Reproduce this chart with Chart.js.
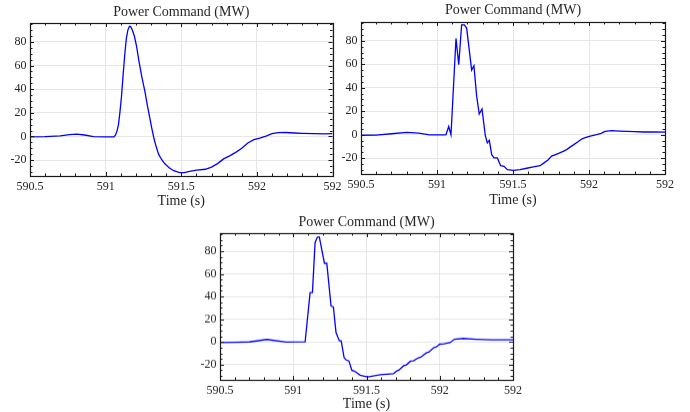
<!DOCTYPE html>
<html>
<head>
<meta charset="utf-8">
<script src="https://cdn.jsdelivr.net/npm/chart.js@4.4.1/dist/chart.umd.min.js"></script>
<style>
  body { margin: 0; background: #fff; }
  #fig { position: relative; width: 690px; height: 412px; }
  .panel { position: absolute; }
</style>
</head>
<body>
<div id="fig">
  <div class="panel" id="p1"><canvas id="c1"></canvas></div>
  <div class="panel" id="p2"><canvas id="c2"></canvas></div>
  <div class="panel" id="p3"><canvas id="c3"></canvas></div>
</div>
<script>
// axis ticks shared by all three panels
const xTickValues = [590.5, 591, 591.5, 592, 592.5];
const xTickLabels = ["590.5", "591", "591.5", "592", "592"];
const yTickValues = [-20, 0, 20, 40, 60, 80];
const panelTitle = "Power Command (MW)";

// panel 1 - smooth command
const time1 = [590.5, 590.6, 590.7, 590.76, 590.81, 590.86, 590.92, 591.0, 591.055, 591.065,
  591.075, 591.085, 591.095, 591.105, 591.115, 591.127, 591.137, 591.147, 591.158, 591.165,
  591.175, 591.19, 591.205, 591.22, 591.24, 591.26, 591.275, 591.29, 591.305, 591.32,
  591.335, 591.35, 591.37, 591.39, 591.42, 591.45, 591.49, 591.52, 591.555, 591.6,
  591.66, 591.7, 591.74, 591.78, 591.82, 591.86, 591.9, 591.94, 591.98, 592.02,
  592.06, 592.1, 592.14, 592.19, 592.25, 592.3, 592.38, 592.45, 592.5];
const power1 = [-0.3, -0.2, 0.4, 1.5, 2.0, 1.2, -0.1, -0.3, -0.3, 1.0,
  4.5, 10, 21, 34, 51, 70, 83, 90, 93.2, 93,
  90.5, 85, 76, 64, 50, 38, 27, 17, 7, -2,
  -9, -15, -19.5, -23, -26.5, -29, -30.7, -30.6, -29.6, -28.6,
  -27.8, -26, -23, -19, -16.5, -13.5, -10, -5.5, -2.8, -1.5,
  0.3, 2.3, 3.2, 3.3, 2.9, 2.6, 2.3, 2.1, 2.3];

// panel 2 - noisy command
const time2 = [590.5, 590.6, 590.7, 590.8, 590.88, 590.95, 591.05, 591.059, 591.077, 591.092,
  591.125, 591.143, 591.162, 591.18, 591.195, 591.228, 591.243, 591.261, 591.278, 591.296,
  591.318, 591.331, 591.344, 591.36, 591.375, 591.397, 591.419, 591.441, 591.463, 591.502,
  591.546, 591.59, 591.634, 591.678, 591.704, 591.73, 591.754, 591.78, 591.8, 591.83,
  591.853, 591.88, 591.9, 591.93, 591.952, 591.975, 592.002, 592.05, 592.08, 592.105,
  592.15, 592.2, 592.25, 592.3, 592.357, 592.42, 592.5];
const power2 = [-0.5, -0.3, 0.8, 2.0, 1.4, -0.2, -0.2, 0, 7, 0,
  82, 59.6, 93.6, 93.6, 90.8, 55, 58.7, 32.6, 17.6, 21.9,
  -0.9, -7, -4.8, -17, -19.8, -19.8, -26.4, -27, -29.8, -30.4,
  -29.8, -28.6, -27.5, -26.4, -24, -21.5, -18.3, -17, -16, -14.2,
  -12.7, -10.2, -8.5, -5.8, -3.7, -2.6, -1.4, 0, 1.2, 2.8,
  3.4, 3.1, 2.8, 2.6, 2.3, 2.4, 2.2];

// panel 3 - stepped command
const time3 = [590.5, 590.6, 590.7, 590.82, 590.95, 591.081, 591.115, 591.131, 591.149, 591.165,
  591.178, 591.213, 591.229, 591.258, 591.274, 591.292, 591.315, 591.327, 591.347, 591.361,
  591.38, 591.4, 591.42, 591.457, 591.507, 591.594, 591.685, 591.707, 591.72, 591.753,
  591.77, 591.8, 591.82, 591.855, 591.87, 591.91, 591.925, 591.96, 591.975, 592.0,
  592.03, 592.07, 592.1, 592.16, 592.25, 592.35, 592.5];
const power3 = [-0.5, -0.3, 0, 2.2, -0.2, 0, 43.5, 43.5, 87.6, 92.6,
  92.6, 69.4, 69.4, 31.7, 30.9, 8.2, 0.9, 0.9, -13.8, -16,
  -16.8, -25, -26, -29.4, -30.9, -29, -28, -25.6, -25, -21,
  -20.5, -17, -16.8, -14, -13.5, -9.5, -9, -5, -4.6, -2,
  -1.6, -0.6, 2.4, 3.1, 2.4, 1.8, 1.8];

const serif = "'Liberation Serif', 'DejaVu Serif', serif";
const textColor = "#262626";

// closed box with inward major/minor tick marks, plus the title centred on the axes
const frameBox = {
  id: "frameBox",
  afterDraw(chart, args, opts) {
    const { ctx, chartArea: a, scales } = chart;
    const xs = scales.x, ys = scales.y;
    ctx.save();
    ctx.strokeStyle = "#1a1a1a";
    ctx.lineWidth = 1;
    ctx.beginPath();
    for (let i = 0; i <= 20; i++) {
      const v = 590.5 + i * 0.1;
      const px = Math.round(xs.getPixelForValue(v)) + 0.5;
      const len = i % 5 === 0 ? 4 : 2.5;
      ctx.moveTo(px, a.bottom); ctx.lineTo(px, a.bottom - len);
      ctx.moveTo(px, a.top); ctx.lineTo(px, a.top + len);
    }
    for (let v = -30; v <= 95; v += 5) {
      const py = Math.round(ys.getPixelForValue(v)) + 0.5;
      const len = v % 20 === 0 ? 4 : 2.5;
      ctx.moveTo(a.left, py); ctx.lineTo(a.left + len, py);
      ctx.moveTo(a.right, py); ctx.lineTo(a.right - len, py);
    }
    ctx.stroke();
    ctx.lineWidth = 1.2;
    ctx.strokeRect(Math.round(a.left) + 0.5, Math.round(a.top) + 0.5,
      Math.round(a.right - a.left), Math.round(a.bottom - a.top));

    ctx.fillStyle = textColor;
    ctx.font = "14px " + serif;
    ctx.textAlign = "center";
    ctx.textBaseline = "middle";
    ctx.fillText(panelTitle, (a.left + a.right) / 2, opts.titleY);
    ctx.restore();
  }
};

function makePanel(id, times, values, box) {
  const panel = document.getElementById("p" + id);
  panel.style.left = box.left + "px";
  panel.style.top = box.top + "px";
  panel.style.width = box.width + "px";
  panel.style.height = box.height + "px";

  const points = times.map((t, i) => ({ x: t, y: values[i] }));
  return new Chart(document.getElementById("c" + id), {
    type: "line",
    data: {
      datasets: [{
        data: points,
        borderColor: "#0000ff",
        borderWidth: 1.3,
        pointRadius: 0,
        tension: 0,
        fill: false
      }]
    },
    options: {
      responsive: true,
      maintainAspectRatio: false,
      animation: false,
      events: [],
      layout: { padding: { left: 0, right: box.padRight, top: box.areaTop, bottom: 0 } },
      plugins: {
        legend: { display: false },
        tooltip: { enabled: false },
        title: { display: false },
        frameBox: { titleY: box.titleY }
      },
      scales: {
        x: {
          type: "linear",
          min: 590.5,
          max: 592.5,
          afterBuildTicks: (s) => { s.ticks = xTickValues.map((v) => ({ value: v })); },
          afterFit: (s) => { s.height = box.xHeight; },
          ticks: {
            autoSkip: false,
            maxRotation: 0,
            padding: 3.5,
            color: textColor,
            font: { family: serif, size: 12 },
            callback: (v, i) => xTickLabels[i]
          },
          grid: { color: "#e6e6e6", drawTicks: false },
          border: { display: false },
          title: {
            display: true,
            text: "Time (s)",
            color: textColor,
            font: { family: serif, size: 14 },
            padding: 0
          }
        },
        y: {
          min: -33.5,
          max: 96,
          afterBuildTicks: (s) => { s.ticks = yTickValues.map((v) => ({ value: v })); },
          afterFit: (s) => { s.width = box.yWidth; },
          ticks: {
            padding: 3.5,
            color: textColor,
            font: { family: serif, size: 12 }
          },
          grid: { color: "#e6e6e6", drawTicks: false },
          border: { display: false }
        }
      }
    },
    plugins: [frameBox]
  });
}

makePanel(1, time1, power1, { left: 0, top: 0, width: 345, height: 210, padRight: 12,
  yWidth: 30, xHeight: 34, areaTop: 23, titleY: 12.7 });
makePanel(2, time2, power2, { left: 335, top: 0, width: 355, height: 208.4, padRight: 25,
  yWidth: 26, xHeight: 34.4, areaTop: 22, titleY: 10 });
makePanel(3, time3, power3, { left: 190, top: 210, width: 340, height: 201.7, padRight: 17,
  yWidth: 30, xHeight: 32.7, areaTop: 23, titleY: 12.3 });
</script>
</body>
</html>
